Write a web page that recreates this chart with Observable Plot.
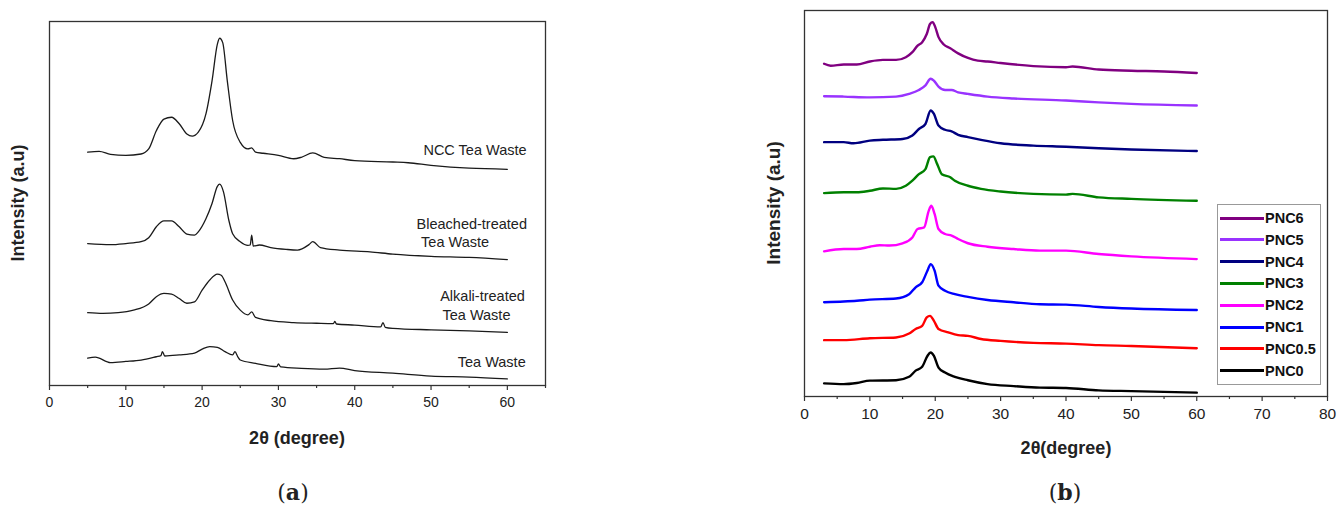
<!DOCTYPE html>
<html>
<head>
<meta charset="utf-8">
<script src="https://cdn.jsdelivr.net/npm/d3@7"></script>
<script src="https://cdn.jsdelivr.net/npm/@observablehq/plot@0.6"></script>
<style>
  body { margin: 0; background: #fff; }
  #root { position: relative; width: 1338px; height: 507px; background: #fff; overflow: hidden; font-family: "Liberation Sans", Arial, sans-serif; color: #222; }
  .abs { position: absolute; }
  .xlab { font-weight: bold; font-size: 18px; transform: translate(-50%, -50%); white-space: nowrap; }
  .ylab { font-weight: bold; font-size: 18px; transform: translate(-50%, -50%) rotate(-90deg); white-space: nowrap; }
  .cap { font-family: "DejaVu Serif", "Liberation Serif", serif; font-size: 22px; transform: translate(-50%, -50%); white-space: nowrap; }
  .legend { border: 1px solid #999; background: #fff; box-sizing: border-box; }
  .legend .row { position: absolute; left: 2px; height: 20px; display: flex; align-items: center; font-weight: bold; font-size: 14.5px; color: #111; }
  .legend .sw { width: 44px; height: 3px; margin-right: 1px; }
</style>
</head>
<body>
<div id="root"></div>
<script>
// ---------- Panel (a) data: 2θ (degree), intensity (a.u., offset) ----------
const nccTeaWaste = [[5,64.1],[6.5,64.3],[8,63.5],[10,63.2],[12,63.6],[13,65],[14,70],[15,73.2],[16,73.7],[17,71.9],[18,69.1],[18.7,68.5],[19.5,69.6],[20.5,74.6],[21.3,83.7],[22,93.8],[22.3,95.4],[22.7,94.2],[23.3,83.7],[24,72.8],[25,66.8],[26,65],[26.5,65.3],[27,64.1],[28,63.8],[30,63.2],[32,62.3],[33,62.7],[34.5,63.9],[36,62.7],[38,62.3],[40,61.8],[45,61.4],[47,61.2],[50,60.5],[55,59.7],[60,59.4]];
const bleachedTeaWaste = [[5,39],[8,38.7],[10,39],[12,39.5],[13,40.6],[14,43.6],[15,45.2],[16,45.2],[17,43.6],[18,41.6],[19,41.3],[19.5,42.2],[20.5,45.8],[21.3,50],[22,54.7],[22.3,55.3],[22.8,53.2],[23.5,45.4],[24,41.7],[25,39.5],[26,38.5],[26.3,38.6],[26.5,41.3],[26.7,38.3],[27.5,38.6],[29,37.9],[31,37.4],[32.5,37.2],[34,38.7],[34.5,39.5],[35.5,37.9],[38,37.2],[42,36.7],[45,36.1],[50,35.5],[55,35.2],[60,34.6]];
const alkaliTeaWaste = [[5,20],[7,19.8],[9,20],[11,20.7],[13,22.4],[14,24.4],[15,25.3],[16,25.1],[17,23.9],[18,22.6],[19,23],[20,26.2],[21,29],[22,30.6],[22.5,30.3],[23,28.5],[24,23.5],[25,20.7],[26,19.4],[26.5,20.2],[27,18.7],[29,17.8],[32,17.3],[35,17.1],[37.2,17],[37.4,17.6],[37.6,16.9],[40,16.6],[43.4,16.1],[43.7,17.3],[44,16],[45,15.7],[50,15.3],[55,15],[60,14.6]];
const teaWaste = [[5,7.5],[6,7.8],[8,6.3],[10,6.6],[12,7],[14,7.9],[14.6,8.2],[14.8,9.3],[15.1,8.1],[17,8.4],[19,8.9],[20,10],[21,10.7],[22,10.5],[23,9.3],[24,8.4],[24.3,9.3],[24.7,7.8],[25,7],[27,6.1],[29.8,5.2],[30,5.9],[30.3,5.1],[33,4.7],[36,4.5],[38,4.8],[40,4.1],[45,3.4],[50,2.6],[55,2.3],[60,1.8]];

const seriesA = [
  {name: "NCC Tea Waste", pts: nccTeaWaste},
  {name: "Bleached-treated Tea Waste", pts: bleachedTeaWaste},
  {name: "Alkali-treated Tea Waste", pts: alkaliTeaWaste},
  {name: "Tea Waste", pts: teaWaste}
];
const labelTextA = ["NCC Tea Waste", "Bleached-treated", "Tea Waste", "Alkali-treated", "Tea Waste", "Tea Waste"];
const labelXA = [49.0, 48.1, 48.7, 51.2, 51.5, 53.5];
const labelYA = [64.5, 44.4, 39.3, 24.5, 19.3, 6.3];
const xTicksA = [0, 10, 20, 30, 40, 50, 60];
const xMinorA = [5, 15, 25, 35, 45, 55, 65];

// ---------- Panel (b) data ----------
const pnc6 = [[3,86.2],[4,85.7],[6,86],[8,86],[10,86.8],[12,87.2],[14,87.2],[15.5,87.9],[16.5,89.2],[17.3,90.9],[18,91.8],[18.7,93.9],[19.2,96.5],[19.6,97],[20,95.7],[20.5,93.1],[21.3,91.2],[22.3,90.2],[23.5,88.9],[25,87.7],[26.5,87],[28,86.8],[30,86.4],[35,85.6],[40,85.3],[41,85.5],[45,84.7],[50,84.4],[55,84.2],[60,83.8]];
const pnc5 = [[3,77.8],[6,77.7],[10,77.5],[14,77.7],[16,78.4],[17.5,79.4],[18.5,80.6],[19.3,82.3],[19.8,81.8],[20.5,80.3],[21.5,79.4],[22.5,79.4],[23.5,78.8],[25,78.4],[28,77.7],[32,77.2],[40,76.7],[45,76.2],[50,75.8],[60,75.4]];
const pnc4 = [[3,65.9],[6,65.9],[7.5,65.6],[10,66.3],[12,66.5],[15,66.7],[16.5,67.6],[17.5,69.3],[18.5,70.6],[19.3,74.1],[19.8,73.2],[20.5,70.2],[21.5,69.1],[22.5,68.7],[23.5,67.8],[25,67.2],[27,66.5],[30,65.6],[35,65],[40,64.7],[45,64.3],[50,64],[60,63.6]];
const pnc3 = [[3,52.7],[6,52.9],[8,52.9],[10,53.3],[12,53.9],[14,53.8],[15.5,54.6],[16.5,55.9],[17.5,57.6],[18.5,58.9],[19.2,62],[19.7,62.2],[20.3,60.2],[21,57.6],[22.3,56.8],[23,55.9],[25,54.6],[27,53.8],[30,53.1],[35,52.5],[40,52.3],[41,52.5],[45,51.6],[50,51.2],[60,50.7]];
const pnc2 = [[3,37.6],[6,38.2],[8,38.2],[10,38.8],[11.5,39.2],[13,39.1],[15,39.7],[16.5,41.2],[17.3,43.4],[18.3,43.8],[19,48.1],[19.4,49.4],[19.9,47.3],[20.5,43.4],[21.5,42.1],[22.5,41.7],[23.5,40.8],[25,39.7],[28,38.8],[32,38.2],[36,37.8],[40,37.8],[45,36.9],[50,36.3],[60,35.6]];
const pnc1 = [[3,24.4],[6,24.6],[8,24.8],[10,25.1],[14,25.4],[16,26.5],[17,28.3],[18,29.6],[18.8,32.6],[19.3,34.3],[19.9,32.6],[20.5,28.7],[21.5,27.4],[23,26.5],[25,25.8],[28,25],[32,24.4],[36,23.9],[40,23.8],[45,23.2],[50,22.8],[60,22.4]];
const pnc05 = [[3,14.6],[6,14.6],[10,15.1],[14,15.3],[16,16.3],[17,17.5],[18,18.3],[18.7,20.5],[19.2,20.9],[19.8,19.6],[20.5,17.5],[22,16.6],[23.5,15.9],[25,15.7],[27,14.9],[30,14.4],[35,13.9],[40,13.7],[45,13.3],[50,13.1],[60,12.5]];
const pnc0 = [[3,3.4],[6,3.2],[8,3.5],[10,4.1],[14,4.2],[16,5.1],[17,6.7],[18,7.7],[18.8,10.5],[19.3,11.4],[19.8,10.5],[20.5,7.5],[21.5,6.2],[23,5.1],[25,4.2],[28,3.2],[32,2.7],[36,2.3],[40,2.2],[45,1.6],[50,1.4],[60,1]];

const namesB = ["PNC6", "PNC5", "PNC4", "PNC3", "PNC2", "PNC1", "PNC0.5", "PNC0"];
const colorsB = ["#800080", "#9933ff", "#000080", "#008000", "#ff00ff", "#0000ff", "#ff0000", "#000000"];
const valuesB = [pnc6, pnc5, pnc4, pnc3, pnc2, pnc1, pnc05, pnc0];
const xTicksB = [0, 10, 20, 30, 40, 50, 60, 70, 80];
const xMinorB = [5, 15, 25, 35, 45, 55, 65, 75];

// ---------- build ----------
const root = document.getElementById("root");
function place(el, left, top) { el.style.position = "absolute"; el.style.left = left + "px"; el.style.top = top + "px"; root.appendChild(el); return el; }
function div(cls, text, left, top) { const d = document.createElement("div"); d.className = "abs " + cls; d.textContent = text; d.style.left = left + "px"; d.style.top = top + "px"; root.appendChild(d); return d; }

const rowsA = seriesA.flatMap(s => s.pts.map(([x, y]) => ({series: s.name, x, y})));
const labelsA = labelTextA.map((t, i) => ({t, x: labelXA[i], y: labelYA[i]}));

const plotA = Plot.plot({
  width: 560, height: 430,
  marginLeft: 49, marginRight: 15, marginTop: 21, marginBottom: 45,
  x: {domain: [0, 65]},
  y: {domain: [0, 100], axis: null},
  style: {fontFamily: "Liberation Sans, Arial, sans-serif", fontSize: "14px", color: "#222", background: "transparent"},
  marks: [
    Plot.line(rowsA, {x: "x", y: "y", z: "series", stroke: "#1a1a1a", strokeWidth: 1.3, curve: "monotone-x"}),
    Plot.text(labelsA, {x: "x", y: "y", text: "t", textAnchor: "start", fontSize: 14.5, fill: "#222"}),
    Plot.frame({stroke: "#333", strokeWidth: 1.3}),
    Plot.axisX({ticks: xTicksA, tickSize: 5, tickPadding: 7, label: null, stroke: "#333", strokeWidth: 1.2, fontSize: 14, fill: "#222"}),
    Plot.axisX({ticks: xMinorA, tickSize: 3, tickFormat: () => "", label: null, stroke: "#333", strokeWidth: 1.2})
  ]
});
place(plotA, 0, 0);

const rowsB = valuesB.flatMap((pts, i) => pts.map(([x, y]) => ({series: namesB[i], x, y})));

const plotB = Plot.plot({
  width: 578, height: 440,
  marginLeft: 44, marginRight: 11, marginTop: 10, marginBottom: 44,
  x: {domain: [0, 80]},
  y: {domain: [0, 100], axis: null},
  color: {domain: namesB, range: colorsB},
  style: {fontFamily: "Liberation Sans, Arial, sans-serif", fontSize: "15px", color: "#222", background: "transparent"},
  marks: [
    Plot.line(rowsB, {x: "x", y: "y", z: "series", stroke: "series", strokeWidth: 2.4, curve: "monotone-x"}),
    Plot.frame({stroke: "#333", strokeWidth: 1.3}),
    Plot.axisX({ticks: xTicksB, tickSize: 5, tickPadding: 6, label: null, stroke: "#333", strokeWidth: 1.2, fontSize: 15.5, fill: "#222"}),
    Plot.axisX({ticks: xMinorB, tickSize: 3, tickFormat: () => "", label: null, stroke: "#333", strokeWidth: 1.2})
  ]
});
place(plotB, 760, 0);

// axis titles and captions
div("xlab", "2θ (degree)", 297, 438);
div("ylab", "Intensity (a.u)", 18, 203);
const capA = div("cap", "", 293, 492); capA.innerHTML = "(<b>a</b>)";

div("xlab", "2θ(degree)", 1066, 448);
const ylb = div("ylab", "Intensity (a.u)", 774, 203); ylb.style.fontSize = "19px";
const capB = div("cap", "", 1065, 492); capB.innerHTML = "(<b>b</b>)";

// legend (panel b)
const leg = document.createElement("div");
leg.className = "legend";
leg.style.width = "104px"; leg.style.height = "181px";
place(leg, 1217, 204);
namesB.forEach((n, i) => {
  const r = document.createElement("div");
  r.className = "row";
  r.style.top = (3 + i * 21.8) + "px";
  const sw = document.createElement("span");
  sw.className = "sw"; sw.style.background = colorsB[i];
  const t = document.createElement("span"); t.textContent = n;
  r.appendChild(sw); r.appendChild(t);
  leg.appendChild(r);
});
</script>
</body>
</html>
